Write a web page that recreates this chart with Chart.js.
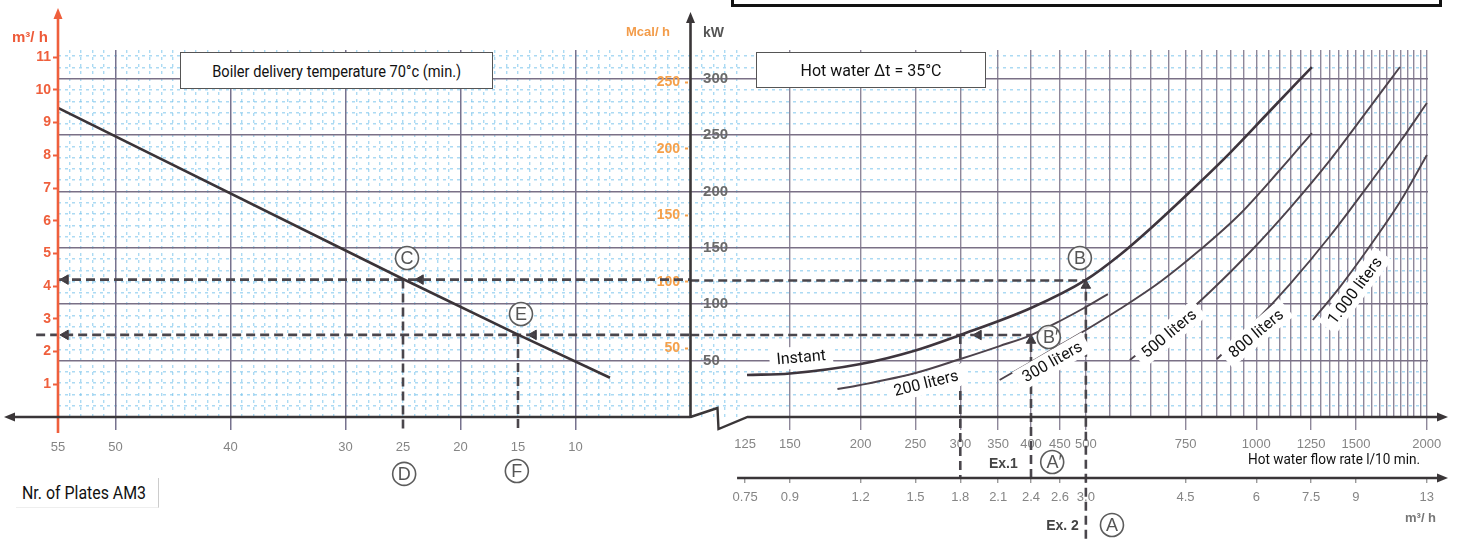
<!DOCTYPE html>
<html><head><meta charset="utf-8">
<script src="https://cdn.jsdelivr.net/npm/chart.js@4.4.1/dist/chart.umd.min.js"></script>
<style>
html,body{margin:0;padding:0;background:#fff;}
#wrap{position:relative;width:1459px;height:539px;overflow:hidden;background:#fff;}
canvas{position:absolute;left:0;top:0;}
.t{position:absolute;white-space:nowrap;font-family:"Liberation Sans",Arial,sans-serif;font-weight:bold;}
.box{position:absolute;background:#fff;border:1px solid #555;box-sizing:border-box;display:flex;align-items:center;justify-content:center;overflow:visible;}
.fit{display:inline-block;white-space:nowrap;font-family:Roboto,"Liberation Sans",sans-serif;color:#111;transform-origin:left center;}
.free{position:absolute;}
</style></head>
<body><div id="wrap">
<canvas id="c" width="1459" height="539"></canvas>
<div class="box" style="left:731px;top:-40px;width:711px;height:47px;border:3px solid #111;"></div>
<div class="box" style="left:180px;top:52px;width:313px;height:37px;"><span class="fit" data-w="249" style="font-size:17px">Boiler delivery temperature 70°c (min.)</span></div>
<div class="box" style="left:756px;top:52px;width:230px;height:36px;"><span class="fit" data-w="141" style="font-size:17px">Hot water Δt = 35°C</span></div>
<div class="box" style="left:16px;top:478px;width:143px;height:30px;border:none;border-right:1px solid #ccc;border-bottom:1px solid #eee;justify-content:flex-start;padding-left:6px;"><span class="fit" data-w="124" style="font-size:18px">Nr. of Plates AM3</span></div>
<div class="free" style="left:1248px;top:450px;"><span class="fit" data-w="172" style="font-size:15.5px">Hot water flow rate l/10 min.</span></div>
<div class="t" style="left:12px;top:28px;font-size:15px;color:#ee5a38;">m³/ h</div>
<div class="t" style="left:626px;top:24px;font-size:13px;color:#f39c4a;">Mcal/ h</div>
<div class="t" style="left:703px;top:24px;font-size:14px;color:#555;">kW</div>
<div class="t" style="left:1405px;top:510px;font-size:13px;color:#777;">m³/ h</div>
</div>
<script>
// ---------------- data ----------------
const plateTicks = [55, 50, 40, 30, 25, 20, 15, 10];
const plateGrid = [50, 40, 30, 20, 10];
const m3hTicks = [1, 2, 3, 4, 5, 6, 7, 8, 9, 10, 11];
const kwTicks = [50, 100, 150, 200, 250, 300];
const mcalTicks = [50, 100, 150, 200, 250];
const flowTicks = [125, 150, 200, 250, 300, 350, 400, 450, 500, 750, 1000, 1250, 1500, 2000];
const flowM3hLabels = ['0.75', '0.9', '1.2', '1.5', '1.8', '2.1', '2.4', '2.6', '3.0', '4.5', '6', '7.5', '9', '13'];

// left panel: m3/h vs number of plates
const boilerPlates = [55, 25, 15, 7];
const boilerFlow = [9.45, 4.22, 2.52, 1.2];

// right panel: kW vs hot water flow rate (l/10 min)
const instantRate = [126, 150, 200, 250, 300, 400, 500, 574, 649, 763, 898, 1057, 1254];
const instantKw   = [37.2, 38.6, 47, 59, 72.7, 96.6, 121.5, 143.6, 166.7, 199.5, 234, 271.3, 310.3];
const l200Rate = [182, 200, 250, 300, 352, 400, 450, 500, 547];
const l200Kw   = [24.8, 28.4, 39, 51.4, 62.9, 72.7, 85.1, 97.5, 109];
const l300Rate = [352, 400, 450, 500, 574, 676, 795, 936, 1101, 1254];
const l300Kw   = [32.8, 48.8, 63.8, 77.1, 95.7, 119.7, 148, 180, 219, 251.8];
const l500Rate = [598, 704, 828, 975, 1147, 1350, 1588, 1794];
const l500Kw   = [50.5, 78.9, 110.8, 146.3, 185.3, 227.8, 274.8, 310.3];
const l800Rate = [852, 975, 1147, 1350, 1588, 1794, 2002];
const l800Kw   = [51.4, 79.8, 117.9, 160.5, 207.4, 243.8, 278.4];
const l1000Rate = [1259, 1405, 1588, 1794, 2002];
const l1000Kw   = [86, 115.2, 151.6, 190.6, 232.3];

// example reading lines
const exCPlates = [55, 0];        const exCFlow = [4.2, 4.2];
const exCDownPlates = [25, 25];   const exCDownFlow = [4.2, -0.45];
const exEPlates = [56.9, 0];      const exEFlow = [2.51, 2.51];
const exEDownPlates = [15, 15];   const exEDownFlow = [2.51, -0.45];
const exBRate = [100, 500];       const exBKw = [121, 121];
const exBpRate = [100, 400];      const exBpKw = [72.7, 72.7];
const ex300Rate = [300, 300];     const ex300Kw = [72.7, -53.2];
const ex400Rate = [400, 400];     const ex400Kw = [-54, 72.7];
const ex500Rate = [500, 500];     const ex500Kw = [-108, 121];
const arrowLeftPlates = [54.35, 23.48, 54.35, 13.65, 25, 15];
const arrowLeftFlow   = [4.2, 4.2, 2.51, 2.51, -0.32, -0.32];
const arrowLeftDir    = ['left', 'left', 'left', 'left', 'down', 'down'];
const arrowRightRate  = [323, 300, 300, 400, 400, 500, 500];
const arrowRightKw    = [72.7, -9.3, -48.3, 67.8, -36.8, 116.6, -82.9];
const arrowRightDir   = ['left', 'down', 'down', 'up', 'up', 'up', 'up'];

// annotations
const curveLabels = [
  {text: 'Instant', rate: 157, kw: 53, angle: -5},
  {text: '200 liters', rate: 261, kw: 30, angle: -14},
  {text: '300 liters', rate: 436, kw: 49, angle: -30},
  {text: '500 liters', rate: 701, kw: 74, angle: -40},
  {text: '800 liters', rate: 999, kw: 74, angle: -40},
  {text: '1.000 liters', rate: 1494, kw: 112, angle: -53}
];
const leftMarks = [{t: 'C', plates: 24.65, flow: 4.86}, {t: 'E', plates: 14.74, flow: 3.15},
                   {t: 'D', plates: 24.9, flow: -1.74}, {t: 'F', plates: 15.1, flow: -1.65}];
const rightMarks = [{t: 'B', rate: 488, kw: 141}, {t: 'B\u2032', rate: 430, kw: 70.9},
                    {t: 'A\u2032', rate: 436, kw: -39.9}, {t: 'A', rate: 556, kw: -95.7}];
const exTexts = [{t: 'Ex.1', rate: 379, kw: -42}, {t: 'Ex. 2', rate: 486, kw: -97}];

// ---------------- scale ranges ----------------
const PLATE_MIN = -64.13, PLATE_MAX = 55;
const FLOW_MIN = 7.64, FLOW_MAX = 2011;
const M3H_MAX = 11.22, KW_MAX = 325.4, MCAL_MIN = -2, MCAL_MAX = 274.6;
const SECOND_AXIS_KW = -54.1;

const RED = '#ef5f3c', ORANGE = '#f5a04a', AX = '#3a3638', GRAYTXT = '#858585';
const BLUE = 'rgba(120,196,236,0.62)', DARKH = '#7a7086', DARKV = '#77728e', DARKV2 = '#8e879a';
const tickFont = {family: "'Liberation Sans', Arial, sans-serif", size: 13};

const range = (a, b, s) => { const r = []; for (let v = a; v <= b + 1e-9; v += s) r.push(+v.toFixed(4)); return r; };
const leftMinor = range(-4, 54, 1).filter(v => v % 10 !== 0);
const kwMinor = range(10, 320, 10).filter(v => v % 50 !== 0);
const flowGrid = range(150, 2000, 50);
const setT = vals => s => { s.ticks = vals.map(v => ({value: v})); };
const pts = (xs, ys) => xs.map((x, i) => ({x, y: ys[i]}));
const rot = {up: 0, right: 90, down: 180, left: 270};

const plateX = (extra) => Object.assign({type: 'linear', display: true, bounds: 'data', reverse: true,
  min: PLATE_MIN, max: PLATE_MAX, position: {yk: 0}, border: {display: false}}, extra);
const flowX = (extra) => Object.assign({type: 'logarithmic', display: true, bounds: 'data',
  min: FLOW_MIN, max: FLOW_MAX, position: {yk: 0}, border: {display: false}}, extra);
const vAxis = (extra) => Object.assign({type: 'linear', display: true, bounds: 'data', border: {display: false}}, extra);

const scales = {
  xmin: plateX({afterBuildTicks: setT(leftMinor), ticks: {display: false},
    grid: {color: BLUE, lineWidth: 1.4, drawTicks: false}, border: {display: false, dash: [3, 4]}}),
  ykm: vAxis({min: 0, max: KW_MAX, position: {x: 0}, afterBuildTicks: setT(kwMinor), ticks: {display: false},
    grid: {color: BLUE, lineWidth: 1.4, drawTicks: false}, border: {display: false, dash: [3, 4]}}),
  x2g: flowX({afterBuildTicks: setT(flowGrid), ticks: {display: false},
    grid: {color: DARKV2, lineWidth: 1.4, drawTicks: false}}),
  x: plateX({afterBuildTicks: setT(plateTicks),
    ticks: {display: true, autoSkip: false, maxRotation: 0, padding: 10, color: GRAYTXT, font: tickFont, callback: v => String(v)},
    grid: {lineWidth: 1.5, tickLength: 13,
      color: c => (c.tick && plateGrid.includes(c.tick.value)) ? DARKV : 'transparent',
      tickColor: c => (c.tick && plateGrid.includes(c.tick.value)) ? DARKV : 'transparent'}}),
  x2: flowX({afterBuildTicks: setT(flowTicks),
    ticks: {display: true, autoSkip: false, maxRotation: 0, padding: 7, color: GRAYTXT, font: tickFont, callback: v => String(v)},
    grid: {drawOnChartArea: false, tickLength: 13, lineWidth: 1.4,
      tickColor: c => (c.tick && c.tick.value === 125) ? 'transparent' : DARKV2}}),
  x3: flowX({position: {yk: SECOND_AXIS_KW}, afterBuildTicks: setT(flowTicks),
    ticks: {display: true, autoSkip: false, maxRotation: 0, padding: 7, color: GRAYTXT, font: tickFont,
      callback: (v, i) => flowM3hLabels[i]},
    grid: {drawOnChartArea: false, tickLength: 5, lineWidth: 1.4, tickColor: '#9a9a9a'}}),
  yk: vAxis({min: 0, max: KW_MAX, position: {x: -3.27}, afterBuildTicks: setT(kwTicks),
    ticks: {display: true, autoSkip: false, padding: 0, color: '#6a6a6a',
      font: {family: "'Liberation Sans', Arial, sans-serif", size: 15, weight: 'bold'},
      callback: v => (v < 100 ? String(v) + '\u2007' : String(v))},
    grid: {color: DARKH, lineWidth: 1.5, drawTicks: false}}),
  y: vAxis({min: 0, max: M3H_MAX, position: {x: 55.61}, afterBuildTicks: setT(m3hTicks),
    ticks: {display: true, autoSkip: false, padding: 0, color: RED,
      font: {family: "'Liberation Sans', Arial, sans-serif", size: 14, weight: 'bold'}, callback: v => String(v)},
    grid: {drawOnChartArea: false, drawTicks: false, color: 'transparent'}}),
  yt: vAxis({min: 0, max: M3H_MAX, position: {x: 55}, afterBuildTicks: setT(m3hTicks), ticks: {display: false},
    grid: {drawOnChartArea: false, tickLength: 5, tickWidth: 2, tickColor: RED, color: 'transparent'}}),
  ym: vAxis({min: MCAL_MIN, max: MCAL_MAX, position: {x: 0.9}, afterBuildTicks: setT(mcalTicks),
    ticks: {display: true, autoSkip: false, padding: 0, color: ORANGE,
      font: {family: "'Liberation Sans', Arial, sans-serif", size: 14, weight: 'bold'}, callback: v => String(v)},
    grid: {drawOnChartArea: false, drawTicks: false, color: 'transparent'}}),
  ymt: vAxis({min: MCAL_MIN, max: MCAL_MAX, position: {x: 0.2}, afterBuildTicks: setT(mcalTicks), ticks: {display: false},
    grid: {drawOnChartArea: false, tickLength: 3, tickWidth: 2, tickColor: ORANGE, color: 'transparent'}})
};

const curve = (xs, ys, w, col) => ({data: pts(xs, ys), xAxisID: 'x2', yAxisID: 'yk', borderColor: col,
  borderWidth: w, cubicInterpolationMode: 'monotone', pointRadius: 0, fill: false, clip: false});
const dashL = (xs, ys) => ({data: pts(xs, ys), xAxisID: 'x', yAxisID: 'y', borderColor: '#4a464c',
  borderWidth: 2.6, borderDash: [9, 5], pointRadius: 0, fill: false, clip: false, tension: 0});
const dashR = (xs, ys) => ({data: pts(xs, ys), xAxisID: 'x2', yAxisID: 'yk', borderColor: '#4a464c',
  borderWidth: 2.6, borderDash: [9, 5], pointRadius: 0, fill: false, clip: false, tension: 0});
const arrows = (xs, ys, dirs, xa, ya) => ({data: pts(xs, ys), xAxisID: xa, yAxisID: ya, showLine: false,
  pointStyle: 'triangle', pointRadius: 5.5, pointRotation: dirs.map(d => rot[d]),
  pointBackgroundColor: '#3f3b40', pointBorderColor: '#3f3b40', pointBorderWidth: 1, clip: false});

const datasets = [
  curve(instantRate, instantKw, 2.6, '#3e353d'),
  curve(l200Rate, l200Kw, 1.9, '#4d434c'),
  curve(l300Rate, l300Kw, 1.9, '#4d434c'),
  curve(l500Rate, l500Kw, 1.9, '#4d434c'),
  curve(l800Rate, l800Kw, 1.9, '#4d434c'),
  curve(l1000Rate, l1000Kw, 1.9, '#4d434c'),
  {data: pts(boilerPlates, boilerFlow), xAxisID: 'x', yAxisID: 'y', borderColor: '#3b3438', borderWidth: 2.6,
   pointRadius: 0, fill: false, clip: false},
  dashL(exCPlates, exCFlow), dashL(exCDownPlates, exCDownFlow),
  dashL(exEPlates, exEFlow), dashL(exEDownPlates, exEDownFlow),
  dashR(exBRate, exBKw), dashR(exBpRate, exBpKw), dashR(ex300Rate, ex300Kw),
  dashR(ex400Rate, ex400Kw), dashR(ex500Rate, ex500Kw),
  arrows(arrowLeftPlates, arrowLeftFlow, arrowLeftDir, 'x', 'y'),
  arrows(arrowRightRate, arrowRightKw, arrowRightDir, 'x2', 'yk')
];

const decor = {
  id: 'decor',
  afterDatasetsDraw(chart) {
    const {ctx, scales: s} = chart;
    const y0 = s.yk.getPixelForValue(0);
    const xk = s.x.getPixelForValue(0);
    const xr = s.x.getPixelForValue(55);
    const y2 = s.yk.getPixelForValue(SECOND_AXIS_KW);
    const xEnd = s.x2.getPixelForValue(FLOW_MAX) + 12;
    const x2Start = s.x2.getPixelForValue(121);
    ctx.save();
    const seg = (p, color, w) => {
      ctx.beginPath(); ctx.strokeStyle = color; ctx.lineWidth = w; ctx.lineJoin = 'miter';
      ctx.moveTo(p[0][0], p[0][1]); for (let i = 1; i < p.length; i++) ctx.lineTo(p[i][0], p[i][1]); ctx.stroke();
    };
    const head = (x, y, dir, color, len = 11, hw = 4.5) => {
      const d = {up: [0, -1], down: [0, 1], left: [-1, 0], right: [1, 0]}[dir];
      const bx = x - d[0] * len, by = y - d[1] * len;
      ctx.beginPath(); ctx.fillStyle = color;
      ctx.moveTo(x, y); ctx.lineTo(bx + d[1] * hw, by + d[0] * hw); ctx.lineTo(bx - d[1] * hw, by - d[0] * hw);
      ctx.closePath(); ctx.fill();
    };
    // axes
    seg([[xr, y0 + 16], [xr, 18]], RED, 2.6); head(xr, 8, 'up', RED);
    seg([[xk, y0 + 1], [xk, 22]], AX, 2.6); head(xk, 12, 'up', AX);
    seg([[xr - 48, y0], [xk, y0]], AX, 2.6); head(xr - 54, y0, 'left', AX);
    seg([[xk, y0], [xk + 27, y0 - 9], [xk + 28, y0 + 12], [xk + 57, y0], [xEnd, y0]], AX, 2.4);
    head(xEnd + 8, y0, 'right', AX);
    seg([[x2Start, y2], [xEnd, y2]], AX, 2.4); head(xEnd + 8, y2, 'right', AX);

    // curve labels
    curveLabels.forEach(l => {
      const px = s.x2.getPixelForValue(l.rate), py = s.yk.getPixelForValue(l.kw);
      ctx.save(); ctx.translate(px, py); ctx.rotate(l.angle * Math.PI / 180);
      ctx.font = '16px Roboto, "Liberation Sans", sans-serif';
      const w = ctx.measureText(l.text).width;
      ctx.fillStyle = '#fff'; ctx.fillRect(-w / 2 - 7, -11, w + 14, 22);
      ctx.fillStyle = '#111'; ctx.textAlign = 'center'; ctx.textBaseline = 'middle';
      ctx.fillText(l.text, 0, 1);
      ctx.restore();
    });
    // circled letters
    const circ = (px, py, t) => {
      ctx.beginPath(); ctx.arc(px, py, 11.5, 0, Math.PI * 2);
      ctx.fillStyle = 'rgba(255,255,255,0.85)'; ctx.fill();
      ctx.lineWidth = 1.6; ctx.strokeStyle = '#5c5c5c'; ctx.stroke();
      ctx.fillStyle = '#555'; ctx.font = '18px "Liberation Sans", Arial, sans-serif';
      ctx.textAlign = 'center'; ctx.textBaseline = 'middle'; ctx.fillText(t, px + (t.length > 1 ? 2 : 0), py + 1);
    };
    leftMarks.forEach(m => circ(s.x.getPixelForValue(m.plates), s.y.getPixelForValue(m.flow), m.t));
    rightMarks.forEach(m => circ(s.x2.getPixelForValue(m.rate), s.yk.getPixelForValue(m.kw), m.t));
    exTexts.forEach(e => {
      ctx.fillStyle = '#444'; ctx.font = 'bold 14px "Liberation Sans", Arial, sans-serif';
      ctx.textAlign = 'right'; ctx.textBaseline = 'middle';
      ctx.fillText(e.t, s.x2.getPixelForValue(e.rate), s.yk.getPixelForValue(e.kw));
    });
    ctx.restore();
  }
};

new Chart(document.getElementById('c'), {
  type: 'line',
  data: {datasets},
  options: {
    responsive: false, animation: false, devicePixelRatio: 1, parsing: true,
    layout: {padding: {left: 58, top: 50, right: 31, bottom: 122}},
    plugins: {legend: {display: false}, tooltip: {enabled: false}},
    elements: {point: {radius: 0}, line: {tension: 0}},
    scales
  },
  plugins: [decor]
});

// condense annotation texts to their measured widths
document.querySelectorAll('.fit').forEach(el => {
  const w = el.getBoundingClientRect().width;
  const target = +el.dataset.w;
  if (w > 0) el.style.transform = 'scaleX(' + (target / w).toFixed(3) + ')';
  if (el.parentElement.classList.contains('box') && el.parentElement.style.justifyContent !== 'flex-start') {
    el.style.transformOrigin = 'center center';
  }
});
</script>
</body></html>
